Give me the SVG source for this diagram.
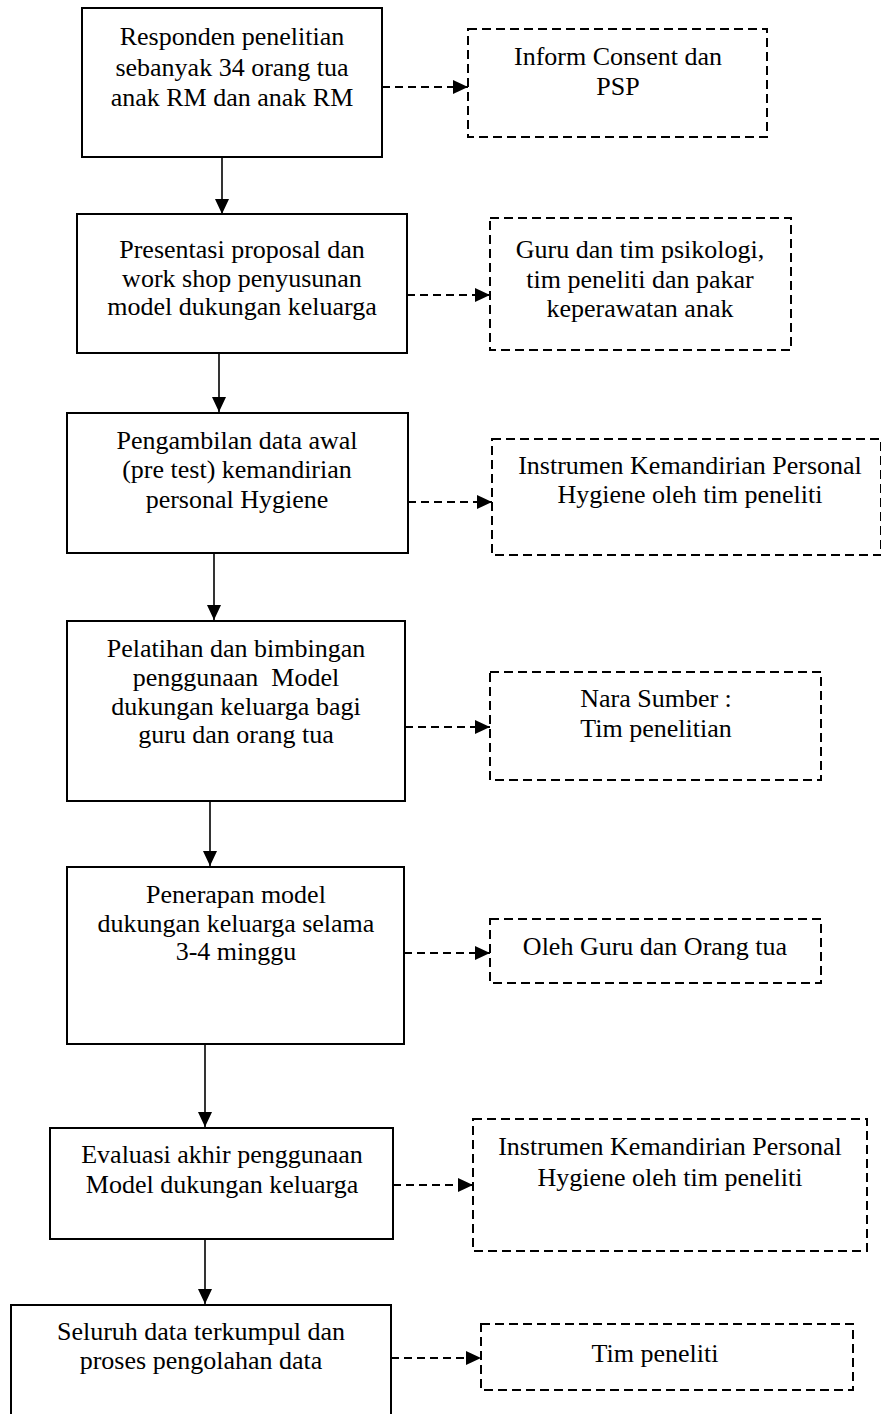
<svg xmlns="http://www.w3.org/2000/svg" width="881" height="1414" viewBox="0 0 881 1414">
  <defs>
    <marker id="head" markerUnits="userSpaceOnUse" markerWidth="15" markerHeight="15" refX="15" refY="7" orient="auto">
      <path d="M0,0 L15,7 L0,14 z" fill="#000"/>
    </marker>
    <style>
      .step { fill: #fff; stroke: #000; stroke-width: 2; }
      .note { fill: #fff; stroke: #000; stroke-width: 2; stroke-dasharray: 9 5; }
      .flow { fill: none; stroke: #000; stroke-width: 1.6; marker-end: url(#head); }
      .link { fill: none; stroke: #000; stroke-width: 1.8; stroke-dasharray: 8 5; marker-end: url(#head); }
      text { font-family: "Liberation Serif", "Times New Roman", serif; font-size: 26px; fill: #000; text-anchor: middle; }
    </style>
  </defs>
  <rect width="881" height="1414" fill="#fff"/>

  <!-- connectors -->
  <g id="connectors">
    <line class="flow" x1="222" y1="157" x2="222" y2="214"/>
    <line class="flow" x1="219" y1="353" x2="219" y2="412"/>
    <line class="flow" x1="214" y1="553" x2="214" y2="620"/>
    <line class="flow" x1="210" y1="801" x2="210" y2="866"/>
    <line class="flow" x1="205" y1="1044" x2="205" y2="1127"/>
    <line class="flow" x1="205" y1="1239" x2="205" y2="1304"/>

    <line class="link" x1="382" y1="87" x2="468" y2="87"/>
    <line class="link" x1="407" y1="295" x2="490" y2="295"/>
    <line class="link" x1="408" y1="502" x2="492" y2="502"/>
    <line class="link" x1="405" y1="727" x2="490" y2="727"/>
    <line class="link" x1="404" y1="953" x2="490" y2="953"/>
    <line class="link" x1="393" y1="1185" x2="473" y2="1185"/>
    <line class="link" x1="391" y1="1358" x2="481" y2="1358"/>
  </g>

  <!-- main steps -->
  <g id="step1">
    <rect class="step" x="82" y="8" width="300" height="149"/>
    <text x="232" y="45">Responden penelitian</text>
    <text x="232" y="76">sebanyak 34 orang tua</text>
    <text x="232" y="106">anak RM dan anak RM</text>
  </g>
  <g id="step2">
    <rect class="step" x="77" y="214" width="330" height="139"/>
    <text x="242" y="258">Presentasi proposal dan</text>
    <text x="242" y="287">work shop penyusunan</text>
    <text x="242" y="315">model dukungan keluarga</text>
  </g>
  <g id="step3">
    <rect class="step" x="67" y="413" width="341" height="140"/>
    <text x="237" y="449">Pengambilan data awal</text>
    <text x="237" y="478">(pre test) kemandirian</text>
    <text x="237" y="508">personal Hygiene</text>
  </g>
  <g id="step4">
    <rect class="step" x="67" y="621" width="338" height="180"/>
    <text x="236" y="657">Pelatihan dan bimbingan</text>
    <text x="236" y="686" xml:space="preserve">penggunaan  Model</text>
    <text x="236" y="715">dukungan keluarga bagi</text>
    <text x="236" y="743">guru dan orang tua</text>
  </g>
  <g id="step5">
    <rect class="step" x="67" y="867" width="337" height="177"/>
    <text x="236" y="903">Penerapan model</text>
    <text x="236" y="932">dukungan keluarga selama</text>
    <text x="236" y="960">3-4 minggu</text>
  </g>
  <g id="step6">
    <rect class="step" x="50" y="1128" width="343" height="111"/>
    <text x="222" y="1163">Evaluasi akhir penggunaan</text>
    <text x="222" y="1193">Model dukungan keluarga</text>
  </g>
  <g id="step7">
    <rect class="step" x="11" y="1305" width="380" height="130"/>
    <text x="201" y="1340">Seluruh data terkumpul dan</text>
    <text x="201" y="1369">proses pengolahan data</text>
  </g>

  <!-- side notes -->
  <g id="note1">
    <rect class="note" x="468" y="29" width="299" height="108"/>
    <text x="618" y="65">Inform Consent dan</text>
    <text x="618" y="95">PSP</text>
  </g>
  <g id="note2">
    <rect class="note" x="490" y="218" width="301" height="132"/>
    <text x="640" y="258">Guru dan tim psikologi,</text>
    <text x="640" y="288">tim peneliti dan pakar</text>
    <text x="640" y="317">keperawatan anak</text>
  </g>
  <g id="note3">
    <rect class="note" x="492" y="439" width="389" height="116"/>
    <text x="690" y="474">Instrumen Kemandirian Personal</text>
    <text x="690" y="503">Hygiene oleh tim peneliti</text>
  </g>
  <g id="note4">
    <rect class="note" x="490" y="672" width="331" height="108"/>
    <text x="656" y="707">Nara Sumber :</text>
    <text x="656" y="737">Tim penelitian</text>
  </g>
  <g id="note5">
    <rect class="note" x="490" y="919" width="331" height="64"/>
    <text x="655" y="955">Oleh Guru dan Orang tua</text>
  </g>
  <g id="note6">
    <rect class="note" x="473" y="1119" width="394" height="132"/>
    <text x="670" y="1155">Instrumen Kemandirian Personal</text>
    <text x="670" y="1186">Hygiene oleh tim peneliti</text>
  </g>
  <g id="note7">
    <rect class="note" x="481" y="1324" width="372" height="66"/>
    <text x="655" y="1362">Tim peneliti</text>
  </g>
</svg>
